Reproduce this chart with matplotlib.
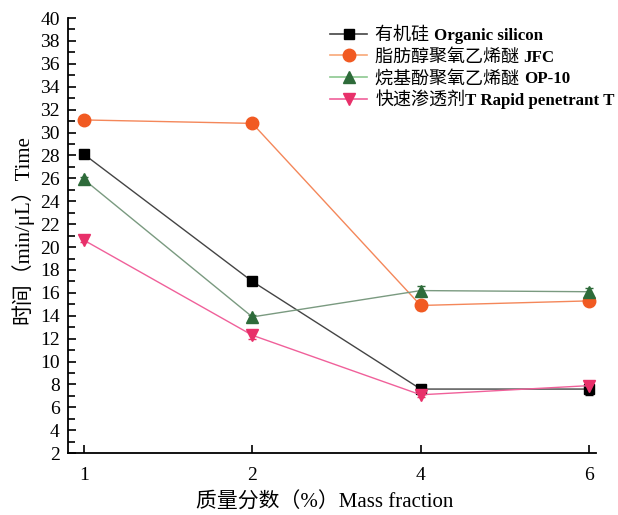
import matplotlib
matplotlib.use("Agg")
import matplotlib.pyplot as plt
from matplotlib.ticker import MultipleLocator
from matplotlib.lines import Line2D

plt.rcParams['font.family'] = ['Liberation Serif', 'Noto Sans CJK SC']

categories = ['1', '2', '4', '6']
silicon = [28.1, 17.0, 7.6, 7.6]
silicon_err = [0.2, 0.2, 0.2, 0.5]
jfc = [31.1, 30.8, 14.9, 15.3]
jfc_err = [0.2, 0.2, 0.4, 0.2]
op10 = [25.9, 13.9, 16.2, 16.1]
op10_err = [0.2, 0.2, 0.4, 0.3]
rapid = [20.6, 12.3, 7.1, 7.9]
rapid_err = [0.2, 0.3, 0.2, 0.3]

labels_cn = ['有机硅 ', '脂肪醇聚氧乙烯醚 ', '烷基酚聚氧乙烯醚 ', '快速渗透剂']
labels_en = ['Organic silicon', 'JFC', 'OP-10', 'T Rapid penetrant T']

fig = plt.figure(figsize=(6.18, 5.15), dpi=100)
ax = fig.add_axes([0.110, 0.120, 0.854, 0.845])
x = list(range(len(categories)))

series = [
    (silicon, silicon_err, '#444444', 'black', 's', 7),
    (jfc, jfc_err, '#F4875A', '#F15A22', 'o', 9),
    (op10, op10_err, '#7A9A80', '#2E6B3A', '^', 9),
    (rapid, rapid_err, '#F0609A', '#E8306A', 'v', 9),
]
legend_line_colors = ['#444444', '#F8A878', '#8CC890', '#F0609A']
handles = []
for (vals, err, lc, mc, m, ms), llc in zip(series, legend_line_colors):
    ax.errorbar(x, vals, yerr=err, color=lc, lw=1.0, marker=m, ms=ms,
                mfc=mc, mec=mc, ecolor=mc, elinewidth=1.0, capsize=3)
    handles.append(Line2D([], [], color=llc, lw=1.2, marker=m, ms=ms, mfc=mc, mec=mc))

ax.set_xlim(-0.095, 3.04)
ax.set_ylim(2, 40)
ax.set_xticks(x)
ax.set_xticklabels(categories)
ax.yaxis.set_major_locator(MultipleLocator(2))
ax.yaxis.set_minor_locator(MultipleLocator(1))
ax.tick_params(axis='both', which='major', direction='in', length=6, width=1.2, labelsize=14)
ax.tick_params(axis='y', which='minor', direction='in', length=5, width=1.2)
ax.tick_params(axis='x', pad=10)
ax.tick_params(axis='y', pad=6)
for s in ['top', 'right']:
    ax.spines[s].set_visible(False)
for s in ['left', 'bottom']:
    ax.spines[s].set_linewidth(1.3)

ax.set_xlabel('质量分数（%）Mass fraction', fontsize=15, labelpad=6)
ax.set_ylabel('时间（min/μL）Time', fontsize=15, labelpad=5)
ax.xaxis.label.set_x(0.487)
ax.yaxis.label.set_y(0.514)

leg = fig.legend(handles=handles, labels=labels_cn, loc='upper left',
                 bbox_to_anchor=(330 / 618, 1 - 27 / 515), frameon=False,
                 fontsize=13, handlelength=2.05, labelspacing=0.26,
                 handletextpad=0.45, borderpad=0, borderaxespad=0)

fig.canvas.draw()
for t, en in zip(leg.get_texts(), labels_en):
    bb = t.get_window_extent()
    bx, by = t.get_transform().transform(t.get_position())
    fig.text(bb.x1 / fig.bbox.width, by / fig.bbox.height, en, fontsize=12.2,
             fontweight='bold', ha='left', va='baseline')

fig.savefig('out.png', dpi=100)
